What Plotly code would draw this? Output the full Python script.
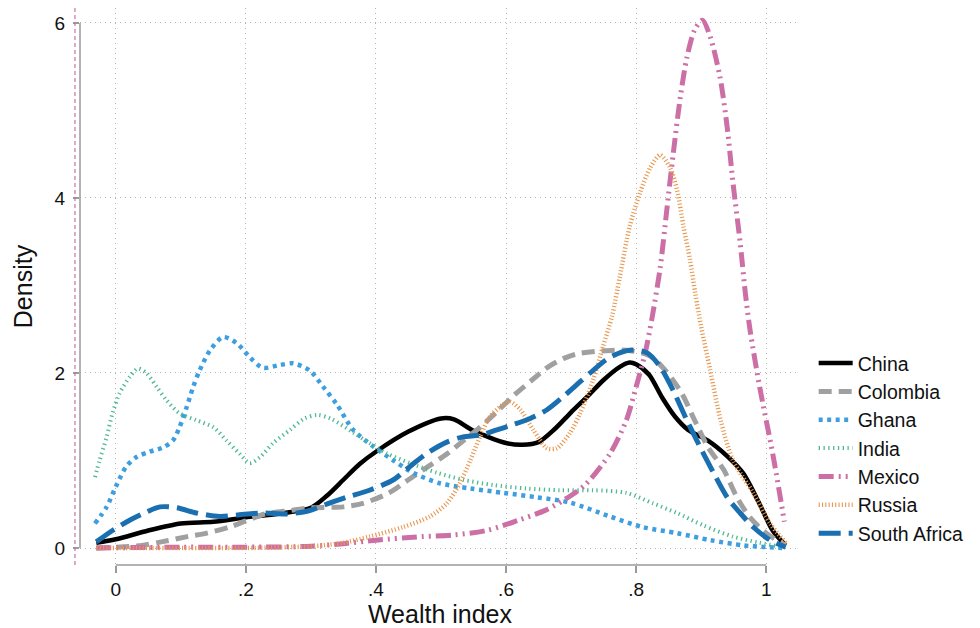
import plotly.graph_objects as go

# ---------------- data ----------------
china_x = [-0.03, 0.0, 0.05, 0.1, 0.15, 0.2, 0.25, 0.3, 0.325, 0.35, 0.375, 0.4, 0.45, 0.5, 0.52, 0.55, 0.6, 0.625,
           0.65, 0.675, 0.7, 0.725, 0.75, 0.775, 0.79, 0.8, 0.82, 0.84, 0.86, 0.88, 0.91, 0.94, 0.965, 0.99, 1.01, 1.03]
china_y = [0.06, 0.1, 0.2, 0.28, 0.3, 0.35, 0.39, 0.46, 0.6, 0.78, 0.96, 1.1, 1.33, 1.48, 1.47, 1.34, 1.2, 1.18,
           1.21, 1.36, 1.55, 1.73, 1.92, 2.07, 2.12, 2.1, 1.98, 1.72, 1.5, 1.35, 1.23, 1.05, 0.85, 0.5, 0.2, 0.03]

colombia_x = [-0.03, 0.0, 0.04, 0.07, 0.11, 0.14, 0.175, 0.2, 0.23, 0.27, 0.3, 0.35, 0.38, 0.42, 0.45, 0.48, 0.51,
              0.535, 0.56, 0.585, 0.61, 0.64, 0.665, 0.69, 0.71, 0.745, 0.785, 0.82, 0.845, 0.87, 0.89, 0.91, 0.935,
              0.955, 0.975, 1.0, 1.03]
colombia_y = [0.0, 0.01, 0.03, 0.07, 0.13, 0.17, 0.24, 0.31, 0.39, 0.43, 0.46, 0.47, 0.51, 0.63, 0.78, 0.93, 1.08,
              1.23, 1.38, 1.55, 1.73, 1.92, 2.07, 2.17, 2.22, 2.25, 2.26, 2.2, 2.03, 1.77, 1.46, 1.16, 0.89,
              0.58, 0.35, 0.17, 0.03]

ghana_x = [-0.032, -0.014, 0.0, 0.016, 0.032, 0.052, 0.073, 0.088, 0.098, 0.109, 0.119, 0.129, 0.145, 0.165, 0.186,
           0.206, 0.226, 0.252, 0.273, 0.298, 0.319, 0.34, 0.365, 0.396, 0.427, 0.457, 0.498, 0.545, 0.596, 0.647,
           0.698, 0.76, 0.81, 0.863, 0.914, 0.965, 1.0, 1.03]
ghana_y = [0.28, 0.47, 0.7, 0.93, 1.04, 1.1, 1.15, 1.23, 1.38, 1.61, 1.84, 2.03, 2.26, 2.41, 2.34,
           2.18, 2.06, 2.09, 2.11, 2.03, 1.84, 1.64, 1.35, 1.16, 1.0, 0.86, 0.74, 0.68, 0.63, 0.58,
           0.52, 0.36, 0.24, 0.17, 0.09, 0.03, 0.01, 0.0]

india_x = [-0.032, -0.025, -0.014, -0.005, 0.006, 0.022, 0.034, 0.047, 0.063, 0.078, 0.098, 0.124, 0.15, 0.17,
           0.19, 0.206, 0.222, 0.242, 0.268, 0.29, 0.31, 0.33, 0.365, 0.39, 0.417, 0.452, 0.494, 0.534, 0.58,
           0.632, 0.683, 0.734, 0.785, 0.826, 0.863, 0.903, 0.949, 0.99, 1.026]
india_y = [0.81, 1.0, 1.27, 1.54, 1.77, 1.96, 2.05, 2.0, 1.84, 1.69, 1.54, 1.46, 1.38, 1.23,
           1.08, 0.97, 1.04, 1.2, 1.35, 1.48, 1.52, 1.48, 1.32, 1.2, 1.08, 0.97, 0.86, 0.78, 0.72,
           0.68, 0.66, 0.66, 0.63, 0.51, 0.4, 0.26, 0.13, 0.06, 0.01]

mexico_x = [-0.03, 0.1, 0.2, 0.3, 0.35, 0.4, 0.47, 0.52, 0.57, 0.62, 0.66, 0.7, 0.724, 0.76, 0.785, 0.8, 0.814,
            0.825, 0.837, 0.847, 0.857, 0.868, 0.878, 0.89, 0.902, 0.914, 0.929, 0.94, 0.949, 0.96, 0.968, 0.975,
            0.99, 1.01, 1.028]
mexico_y = [0.0, 0.01, 0.01, 0.02, 0.05, 0.09, 0.13, 0.15, 0.2, 0.32, 0.43, 0.6, 0.74, 1.08, 1.46, 1.84, 2.23,
            2.65, 3.2, 3.85, 4.5, 5.15, 5.6, 5.92, 6.03, 5.84, 5.38, 4.81, 4.17, 3.49, 2.91, 2.5,
            1.84, 1.08, 0.3]

russia_x = [-0.03, 0.1, 0.2, 0.3, 0.35, 0.39, 0.442, 0.483, 0.509, 0.529, 0.545, 0.56, 0.575, 0.594, 0.606, 0.622,
            0.642, 0.663, 0.678, 0.698, 0.714, 0.734, 0.749, 0.763, 0.775, 0.79, 0.806, 0.822, 0.837, 0.852, 0.863,
            0.873, 0.883, 0.891, 0.9, 0.914, 0.93, 0.949, 0.98, 1.006, 1.03]
russia_y = [0.0, 0.0, 0.0, 0.02, 0.06, 0.13, 0.24, 0.36, 0.51, 0.74, 1.0, 1.27, 1.5, 1.63, 1.67, 1.58,
            1.35, 1.14, 1.14, 1.31, 1.54, 1.92, 2.3, 2.65, 3.1, 3.67, 4.06, 4.35, 4.49, 4.35, 4.09,
            3.67, 3.29, 2.91, 2.53, 2.03, 1.46, 1.0, 0.63, 0.28, 0.06]

safrica_x = [-0.03, -0.005, 0.022, 0.047, 0.068, 0.094, 0.124, 0.16, 0.19, 0.226, 0.263, 0.294, 0.324, 0.355,
             0.39, 0.427, 0.452, 0.478, 0.509, 0.534, 0.56, 0.586, 0.611, 0.637, 0.663, 0.688, 0.714, 0.734, 0.76,
             0.79, 0.817, 0.837, 0.857, 0.878, 0.898, 0.919, 0.94, 0.96, 0.98, 1.006, 1.03]
safrica_y = [0.07, 0.2, 0.32, 0.41, 0.47, 0.46, 0.4, 0.36, 0.38, 0.4, 0.39, 0.42, 0.5, 0.58,
             0.66, 0.78, 0.93, 1.08, 1.21, 1.27, 1.29, 1.35, 1.41, 1.48, 1.58, 1.73, 1.9, 2.03, 2.18,
             2.26, 2.23, 2.07, 1.8, 1.46, 1.16, 0.86, 0.58, 0.4, 0.24, 0.09, 0.01]

x_tickvals = [0, 0.2, 0.4, 0.6, 0.8, 1.0]
x_ticktext = ["0", ".2", ".4", ".6", ".8", "1"]
y_tickvals = [0, 2, 4, 6]
y_ticktext = ["0", "2", "4", "6"]

# ---------------- styles ----------------
series = [
    ("China", china_x, china_y, "#000000", 4.5, "solid"),
    ("Colombia", colombia_x, colombia_y, "#a0a0a0", 5, "13px,7px"),
    ("Ghana", ghana_x, ghana_y, "#3d9fe0", 4.5, "4px,4.5px"),
    ("India", india_x, india_y, "#4fba90", 4, "1.3px,3.5px"),
    ("Mexico", mexico_x, mexico_y, "#cc6fa6", 5, "15px,5px,2px,5px,2px,5px"),
    ("Russia", russia_x, russia_y, "#e8974f", 4.5, "1.1px,2.2px"),
    ("South Africa", safrica_x, safrica_y, "#1a6fb0", 5, "22px,8px"),
]

XMIN, XMAX = -0.055, 1.052
YMIN, YMAX = -0.194, 6.17

fig = go.Figure()
for i, (name, xs, ys, col, w, dash) in enumerate(series):
    fig.add_trace(go.Scatter(
        x=xs, y=ys, mode="lines", name=name, legendgroup=f"g{i}",
        line=dict(color=col, width=w, dash=dash, shape="spline", smoothing=0.8),
    ))

grid = dict(showgrid=True, gridcolor="#b4b4b4", griddash="1px,4px", gridwidth=1, zeroline=False, showline=False)

fig.update_layout(
    width=972, height=620,
    margin=dict(l=72, r=180, t=0, b=63),
    plot_bgcolor="white", paper_bgcolor="white",
    font=dict(family="Liberation Sans, Arial, sans-serif", size=19, color="#111111"),
    xaxis=dict(range=[XMIN, XMAX], tickvals=x_tickvals, ticktext=x_ticktext,
               ticks="outside", ticklen=7, tickcolor="#9a9a9a", tickwidth=1.5,
               tickfont=dict(size=19),
               title=dict(text="Wealth index", font=dict(size=25), standoff=6),
               automargin=False, **grid),
    yaxis=dict(range=[YMIN, YMAX], tickvals=y_tickvals, ticktext=y_ticktext,
               ticks="outside", ticklen=6, tickcolor="#9a9a9a", tickwidth=1.5,
               tickfont=dict(size=19), ticklabelstandoff=4,
               title=dict(text="Density", font=dict(size=25), standoff=14),
               automargin=False, **grid),
    legend=dict(x=1.019, y=0.397, xanchor="left", yanchor="top", font=dict(size=19.5),
                tracegroupgap=2, itemwidth=34, bgcolor="rgba(0,0,0,0)", traceorder="normal"),
    showlegend=True,
)

def xp(v):
    return (v - XMIN) / (XMAX - XMIN)

def yp(v):
    return (v - YMIN) / (YMAX - YMIN)

# Stata-style axis lines spanning only the labelled range
fig.add_shape(type="line", xref="paper", yref="paper", x0=0, x1=0, y0=yp(y_tickvals[0]), y1=yp(y_tickvals[-1]),
              line=dict(color="#9a9a9a", width=1.5))
fig.add_shape(type="line", xref="paper", yref="paper", x0=xp(x_tickvals[0]), x1=xp(x_tickvals[-1]), y0=0, y1=0,
              line=dict(color="#9a9a9a", width=1.5))
# dashed reference line at the far left
fig.add_shape(type="line", xref="paper", yref="paper", x0=-0.007, x1=-0.007, y0=0, y1=1.0,
              line=dict(color="#cc6fa6", width=1.2, dash="4px,3px"))

fig.write_html("out.html")
